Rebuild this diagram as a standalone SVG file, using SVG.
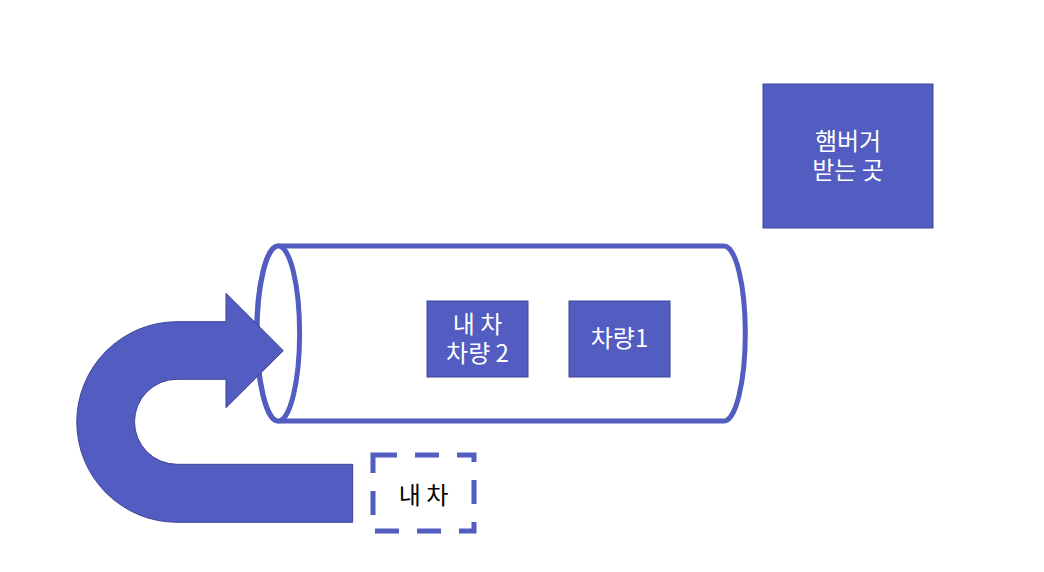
<svg xmlns="http://www.w3.org/2000/svg" width="1044" height="572" viewBox="0 0 1044 572">
<style>
.box{fill:#535CC0;stroke:#3D4497;stroke-width:1}
.pipe{fill:#FFFFFF;stroke:#535CC0;stroke-width:5}
.wt{fill:#FFFFFF;font-family:"Noto Sans CJK KR","Noto Sans",sans-serif;font-size:24px;text-anchor:middle}
.bt{fill:#000000;font-family:"Noto Sans CJK KR","Noto Sans",sans-serif;font-size:24px;text-anchor:middle}
.dash{fill:none;stroke:#535CC0;stroke-width:5;stroke-dasharray:24 18}
.arrow{fill:#535CC0;stroke:#3D4497;stroke-width:1}
</style>
<rect width="1044" height="572" fill="#FFFFFF"/>
<g id="hamburger-pickup">
<rect class="box" x="763" y="84" width="170" height="144"/>
<text class="wt" x="848" y="150">햄버거</text>
<text class="wt" x="848" y="179">받는 곳</text>
</g>
<g id="drive-thru-lane">
<path class="pipe" d="M278,246 L724,246 A21.3,87.5 0 0 1 724,421 L278,421 A21.3,87.5 0 0 1 278,246 Z"/>
<ellipse class="pipe" cx="278.3" cy="333.5" rx="21.3" ry="87.5"/>
</g>
<g id="my-car-vehicle2">
<rect class="box" x="427" y="301" width="101" height="76"/>
<text class="wt" x="477.5" y="333">내 차</text>
<text class="wt" x="477.5" y="362">차량 2</text>
</g>
<g id="vehicle1">
<rect class="box" x="569" y="301" width="101" height="76"/>
<text class="wt" x="619.5" y="347">차량1</text>
</g>
<g id="my-car-waiting">
<rect class="dash" x="373" y="455" width="101" height="76"/>
<text class="bt" x="423.5" y="504">내 차</text>
</g>
<g id="connectors">
<path id="uturn-arrow" class="arrow" d="M352.7,464.3 L177,464.3 A42.5,42.5 0 0 1 177,379.3 L226,379.3 L226,407.7 L283.3,350.7 L226,293.3 L226,321.7 L177,321.7 A100.3,100.3 0 0 0 177,522.3 L352.7,522.3 Z"/>
</g>
</svg>
